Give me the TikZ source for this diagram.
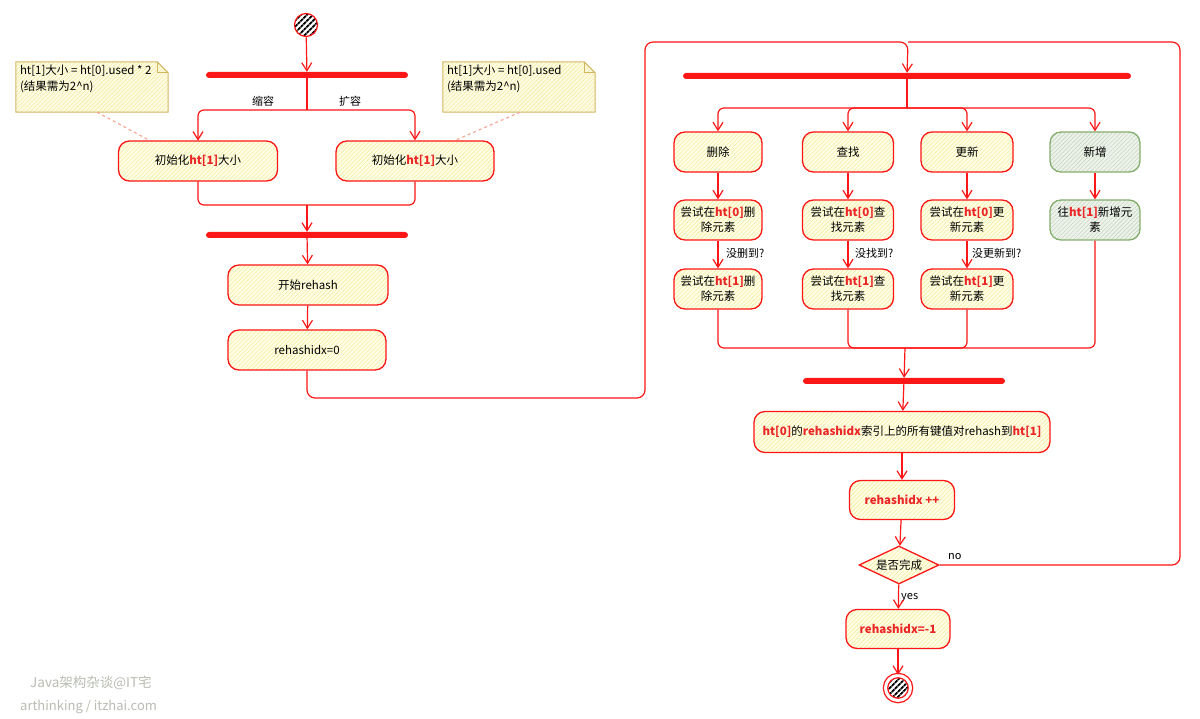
\documentclass[tikz,border=0pt]{standalone}
\usepackage{fontspec}
\setmainfont{Noto Sans CJK SC}
\usetikzlibrary{arrows.meta, shapes.geometric, patterns.meta}

\definecolor{flowred}{RGB}{255,22,22}
\definecolor{txtred}{RGB}{236,38,38}
\definecolor{boxfill}{RGB}{254,253,230}
\definecolor{boxhatch}{RGB}{244,239,160}
\definecolor{grnline}{RGB}{132,174,110}
\definecolor{grnfill}{RGB}{237,242,234}
\definecolor{grnhatch}{RGB}{200,216,194}
\definecolor{notefill}{RGB}{253,250,228}
\definecolor{noteline}{RGB}{212,182,98}
\definecolor{notelink}{RGB}{246,168,150}
\definecolor{markgray}{RGB}{184,188,178}

\newcommand{\hl}[1]{\textcolor{txtred}{\bfseries #1}}

\tikzset{
  act/.style={draw=flowred, line width=1.3pt, rounded corners=11pt, align=center,
    preaction={fill=boxfill},
    pattern={Lines[angle=45, distance=3pt, line width=.6pt]}, pattern color=boxhatch,
    minimum height=40pt, inner sep=1pt, font=\fontsize{11.5}{15}\selectfont},
  newact/.style={act, draw=grnline, preaction={fill=grnfill}, pattern color=grnhatch},
  bar/.style={fill=flowred, rounded corners=3pt, minimum height=6pt, inner sep=0pt},
  start/.style={circle, draw=flowred, line width=1.2pt, minimum size=23pt, inner sep=0pt,
    preaction={fill=white},
    pattern={Lines[angle=45, distance=4pt, line width=2pt]}, pattern color=black},
  stop/.style={start, double=white, double distance=3pt, line width=1.3pt, minimum size=25pt},
  decide/.style={diamond, draw=flowred, line width=1.3pt, aspect=2.1, inner sep=0pt,
    preaction={fill=boxfill},
    pattern={Lines[angle=45, distance=3pt, line width=.6pt]}, pattern color=boxhatch,
    minimum width=80pt, minimum height=38pt, font=\fontsize{11.5}{14}\selectfont},
  notebox/.style={minimum width=152pt, minimum height=50pt, inner sep=0pt},
  noteshape/.style={draw=noteline, line width=1pt, preaction={fill=notefill},
    pattern={Lines[angle=45, distance=3pt, line width=.6pt]}, pattern color=boxhatch},
  notetext/.style={align=left, inner sep=3pt, font=\fontsize{11.5}{16}\selectfont},
  notelink/.style={notelinkcol, line width=1.2pt, dashed},
  notelinkcol/.style={color=notelink},
  flowpath/.style={flowred, line width=1.2pt, -{Straight Barb[length=8pt, width=10pt]}},
  flow/.style={flowpath, draw},
  line/.style={draw=flowred, line width=1.2pt},
  lbl/.style={inner sep=1pt, font=\fontsize{11}{13}\selectfont},
  wmark/.style={text=markgray, inner sep=0pt, anchor=west}
}

\begin{document}
\begin{tikzpicture}[x=1pt, y=-1pt]
      \useasboundingbox (0,0) rectangle (1200,719);

      % Nodes
      \node[start] (begin0) at (306,25) {};
      \node[bar, minimum width=202pt] (bar1) at (307,75) {};
      \coordinate (split1) at (307,110);
      \node[act, minimum width=159pt] (init1) at (198,161) {初始化\hl{ht[1]}大小};
      \node[act, minimum width=158pt] (init2) at (415,161) {初始化\hl{ht[1]}大小};
      \node[lbl] (shrink) at (263,101) {缩容};
      \node[lbl] (grow) at (350,101) {扩容};

      % notes
      \node[notebox] (note1) at (92,87) {};
      \node[notebox] (note2) at (519,87) {};
      \foreach \n in {note1, note2}
        \path[noteshape] (\n.north west) -- ([xshift=-11pt]\n.north east)
          -- ([yshift=-11pt]\n.north east) -- (\n.south east) -- (\n.south west) -- cycle;
      \foreach \n in {note1, note2}
        \draw[noteline, line width=1pt] ([xshift=-11pt]\n.north east) -- ([xshift=-11pt, yshift=-11pt]\n.north east)
          -- ([yshift=-11pt]\n.north east);
      \node[notetext, anchor=north west] (note1t) at ([xshift=1pt]note1.north west) {ht[1]大小 = ht[0].used * 2\\(结果需为2\textasciicircum n)};
      \node[notetext, anchor=north west] (note2t) at ([xshift=1pt]note2.north west) {ht[1]大小 = ht[0].used\\(结果需为2\textasciicircum n)};

      \coordinate (merge1) at (307,205);
      \node[bar, minimum width=202pt] (bar2) at (307,235) {};
      \node[act, minimum width=160pt] (rstart) at (308,285) {开始rehash};
      \node[act, minimum width=158pt] (reset) at (307,350) {rehashidx=0};

      \coordinate (loopA) at (645,398);
      \coordinate (top) at (908,42);
      \coordinate (loopB) at (1180,42);

      \node[bar, minimum width=448pt] (bar3) at (907,76) {};
      \coordinate (split3) at (907,108);

      \node[act, minimum width=88pt] (del) at (718,152) {删除};
      \node[act, minimum width=91pt] (find) at (848,152) {查找};
      \node[act, minimum width=92pt] (upd) at (967,152) {更新};
      \node[newact, minimum width=90pt] (add) at (1095,152) {新增};

      \node[act, minimum width=88pt] (del0) at (718,220) {尝试在\hl{ht[0]}删\\除元素};
      \node[act, minimum width=91pt] (find0) at (848,220) {尝试在\hl{ht[0]}查\\找元素};
      \node[act, minimum width=92pt] (upd0) at (967,220) {尝试在\hl{ht[0]}更\\新元素};
      \node[newact, minimum width=90pt] (add1) at (1095,220) {往\hl{ht[1]}新增元\\素};

      \node[act, minimum width=88pt] (del1) at (718,289) {尝试在\hl{ht[1]}删\\除元素};
      \node[act, minimum width=91pt] (find1) at (848,289) {尝试在\hl{ht[1]}查\\找元素};
      \node[act, minimum width=92pt] (upd1) at (967,289) {尝试在\hl{ht[1]}更\\新元素};

      \node[lbl, anchor=west] (miss1) at (725,253) {没删到?};
      \node[lbl, anchor=west] (miss2) at (854,253) {没找到?};
      \node[lbl, anchor=west] (miss3) at (971,253) {没更新到?};

      \coordinate (merge3) at (905,348);
      \node[bar, minimum width=202pt] (bar4) at (904,381) {};
      \node[act, minimum width=296pt, minimum height=41pt] (move) at (902,432)
        {\hl{ht[0]}的\hl{rehashidx}索引上的所有键值对rehash到\hl{ht[1]}};
      \node[act, minimum width=105pt, minimum height=39pt] (incr) at (902,500) {\hl{rehashidx ++}};
      \node[decide] (check) at (899,565) {是否完成};
      \node[lbl, anchor=west] (no) at (947,557) {no};
      \node[lbl, anchor=west] (yes) at (900,598) {yes};
      \node[act, minimum width=104pt, minimum height=39pt] (finish) at (898,629) {\hl{rehashidx=-1}};
      \node[stop] (end0) at (898,688) {};

      \node[wmark, font=\fontsize{13.5}{15}\selectfont] (mark1) at (30,683) {Java架构杂谈@IT宅};
      \node[wmark, font=\fontsize{13}{15}\selectfont] (mark2) at (20,707) {arthinking / itzhai.com};

      % Edges
      \path[flowpath] (begin0) edge (bar1);
      \path[line] (bar1) edge (split1);
      \draw[flow, rounded corners=6pt] (split1) -| (init1);
      \draw[flow, rounded corners=6pt] (split1) -| (init2);
      \path[notelink] ([xshift=5pt]note1.south) edge ([xshift=-48pt]init1.north)
                      ([xshift=1pt]note2.south) edge ([xshift=40pt]init2.north);
      \draw[line, rounded corners=6pt] (init1) |- (merge1) -| (init2);
      \path[flowpath] (merge1) edge (bar2)
                      (bar2) edge (rstart)
                      (rstart) edge (reset);

      % loop
      \draw[flow, rounded corners=8pt] (reset) |- (loopA) |- (top) -- (bar3);
      \draw[line, rounded corners=8pt] (check) -| (loopB) -- (top);

      \path[line] (bar3) edge (split3);
      \foreach \n in {del, find, upd, add}
        \draw[flow, rounded corners=6pt] (split3) -| (\n);
      \path[flowpath] (del) edge (del0)
                      (find) edge (find0)
                      (upd) edge (upd0)
                      (add) edge (add1)
                      (del0) edge (del1)
                      (find0) edge (find1)
                      (upd0) edge (upd1);
      \foreach \n in {del1, find1, upd1, add1}
        \draw[line, rounded corners=6pt] (\n) |- (merge3);
      \path[flowpath] (merge3) edge (bar4)
                      (bar4) edge (move)
                      (move) edge (incr)
                      (incr) edge (check)
                      (check) edge (finish)
                      (finish) edge (end0);

\end{tikzpicture}
\end{document}
